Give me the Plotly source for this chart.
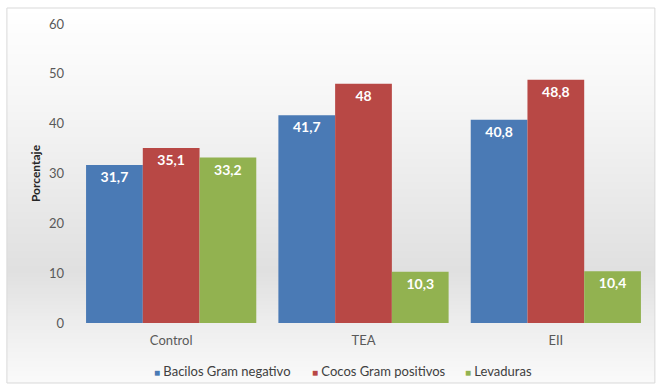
import base64
import struct
import zlib

import plotly.graph_objects as go

categories = ["Control", "TEA", "EII"]
bacilos = [31.7, 41.7, 40.8]
cocos = [35.1, 48, 48.8]
levaduras = [33.2, 10.3, 10.4]
series_names = ["Bacilos Gram negativo", "Cocos Gram positivos", "Levaduras"]
y_ticks = [0, 10, 20, 30, 40, 50, 60]

colors = ["#4a7ab5", "#b84845", "#92b250"]
FONT = "Lato, 'Open Sans', sans-serif"

# legend entry anchors along the bottom (paper x)
legend_x = [0.1334, 0.4073, 0.6724]


def fmt(v):
    s = f"{v:g}"
    return s.replace(".", ",")


def gradient_png(stops, height=200):
    """Build a 1-pixel-wide vertical gradient PNG as a data URI."""
    rows = b""
    for i in range(height):
        t = i / (height - 1)
        for (t0, c0), (t1, c1) in zip(stops[:-1], stops[1:]):
            if t0 <= t <= t1:
                f = (t - t0) / (t1 - t0) if t1 > t0 else 0
                c = [round(a + (b - a) * f) for a, b in zip(c0, c1)]
                break
        rows += b"\x00" + bytes(c)

    def chunk(tag, data):
        return (struct.pack(">I", len(data)) + tag + data
                + struct.pack(">I", zlib.crc32(tag + data) & 0xFFFFFFFF))

    png = b"\x89PNG\r\n\x1a\n"
    png += chunk(b"IHDR", struct.pack(">IIBBBBB", 1, height, 8, 2, 0, 0, 0))
    png += chunk(b"IDAT", zlib.compress(rows))
    png += chunk(b"IEND", b"")
    return "data:image/png;base64," + base64.b64encode(png).decode()


bg = gradient_png([
    (0.0, (255, 255, 255)),
    (0.25, (246, 246, 246)),
    (0.7, (224, 224, 224)),
    (0.85, (238, 238, 238)),
    (1.0, (250, 250, 250)),
])

fig = go.Figure()
for name, vals, col in zip(series_names, [bacilos, cocos, levaduras], colors):
    fig.add_trace(go.Bar(
        x=categories, y=vals, name=name,
        marker=dict(color=col, line=dict(width=0)),
        text=[fmt(v) for v in vals],
        textposition="inside", insidetextanchor="end",
        textfont=dict(family=FONT, size=14, color="white", weight="bold"),
        textangle=0, showlegend=False,
    ))

# legend drawn as a row of coloured squares with the series names
annotations = []
for name, col, lx in zip(series_names, colors, legend_x):
    annotations.append(dict(
        xref="paper", yref="paper", x=lx, y=-0.1605,
        xanchor="left", yanchor="middle", showarrow=False,
        text=f"<span style='color:{col};font-size:10px'>■</span> {name}",
        font=dict(family=FONT, size=13, color="#404040"),
    ))

fig.update_layout(
    width=663, height=389,
    margin=dict(l=75, r=11, t=24, b=66),
    barmode="group", bargap=0.115, bargroupgap=0,
    paper_bgcolor="white", plot_bgcolor="rgba(0,0,0,0)",
    font=dict(family=FONT, size=13, color="#595959"),
    showlegend=False,
    xaxis=dict(showgrid=False, showline=False, ticks="", zeroline=False,
               automargin=False, ticklabelstandoff=8,
               tickfont=dict(size=13, color="#595959")),
    yaxis=dict(range=[0, 60], tickvals=y_ticks, showgrid=False, zeroline=False,
               showline=False, ticks="", ticklabelstandoff=10, automargin=False,
               tickfont=dict(size=13, color="#595959"),
               title=dict(text="Porcentaje", standoff=5,
                          font=dict(size=12, color="#262626", weight="bold"))),
    annotations=annotations,
    images=[dict(source=bg, xref="paper", yref="paper", x=-0.118, y=1.0535,
                 sizex=1.123, sizey=1.254, xanchor="left", yanchor="top",
                 sizing="stretch", layer="below")],
    shapes=[dict(type="rect", xref="paper", yref="paper",
                 x0=-0.118, x1=1.005, y0=-0.2007, y1=1.0535,
                 line=dict(color="#d9d9d9", width=1), fillcolor="rgba(0,0,0,0)")],
)

fig.write_html("out.html")
